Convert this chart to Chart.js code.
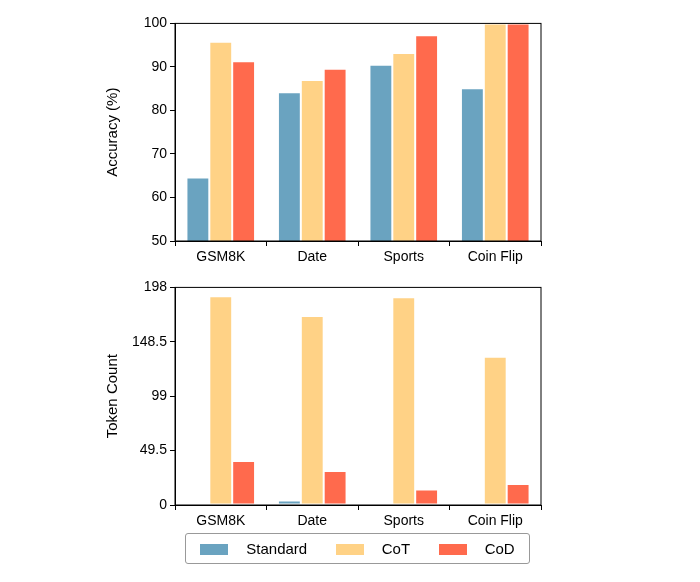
<!DOCTYPE html>
<html><head><meta charset="utf-8">
<script src="https://cdn.jsdelivr.net/npm/chart.js@4"></script>
<style>
body{margin:0;background:#fff;font-family:"Liberation Sans",Arial,sans-serif;}
.c{position:absolute;left:100px;width:445px;height:259px;}
#legend{position:absolute;left:185px;top:533px;width:343px;height:29px;border:1px solid #999;border-radius:3px;display:flex;align-items:center;justify-content:space-around;font-size:15px;}
#legend span i{display:inline-block;width:28px;height:11px;margin-right:18px;vertical-align:-1px;}
</style></head><body>
<div class="c" style="top:12px"><canvas id="acc"></canvas></div>
<div class="c" style="top:276px"><canvas id="tok"></canvas></div>
<div id="legend"></div>
<script>
const categories = ['GSM8K', 'Date', 'Sports', 'Coin Flip'];
const seriesNames = ['Standard', 'CoT', 'CoD'];
const colors = ['#6aa3c0', '#ffd286', '#ff6a4d'];
const accStandard = [64.6, 84.2, 90.5, 85.1];
const accCoT = [95.8, 87.0, 93.2, 100];
const accCoD = [91.3, 89.6, 97.3, 100];
const tokStandard = [1, 4, 1, 1];
const tokCoT = [190, 172, 189, 135];
const tokCoD = [40, 31, 14, 19];

const boxPlugin = {
  id: 'box',
  afterDraw(chart) {
    const a = chart.chartArea, ctx = chart.ctx;
    ctx.save(); ctx.strokeStyle = '#000'; ctx.lineWidth = 1;
    ctx.strokeRect(a.left, a.top, a.right - a.left, a.bottom - a.top);
    ctx.restore();
  }
};

function makeChart(id, data, yTitle, yMin, yMax, step) {
  new Chart(document.getElementById(id), {
    type: 'bar',
    data: {
      labels: categories,
      datasets: data.map((d, i) => ({ label: seriesNames[i], data: d, backgroundColor: colors[i], borderColor: '#fff', borderWidth: 1, borderSkipped: false }))
    },
    options: {
      responsive: true, maintainAspectRatio: false, animation: false,
      categoryPercentage: 0.75, barPercentage: 1,
      layout: { padding: { top: 10, right: 4 } },
      plugins: { legend: { display: false }, tooltip: { enabled: false } },
      scales: {
        x: {
          grid: { drawOnChartArea: false, tickLength: 5, color: '#000' },
          border: { color: '#000' },
          ticks: { color: '#000', font: { size: 14, family: 'Liberation Sans' } },
          afterFit: s => { s.height = 30; }
        },
        y: {
          min: yMin, max: yMax,
          grid: { drawOnChartArea: false, tickLength: 5, color: '#000' },
          border: { color: '#000' },
          ticks: { stepSize: step, color: '#000', font: { size: 14, family: 'Liberation Sans' } },
          title: { display: true, text: yTitle, color: '#000', font: { size: 15, family: 'Liberation Sans' } },
          afterFit: s => { s.width = 75; }
        }
      }
    },
    plugins: [boxPlugin]
  });
}

makeChart('acc', [accStandard, accCoT, accCoD], 'Accuracy (%)', 50, 100, 10);
makeChart('tok', [tokStandard, tokCoT, tokCoD], 'Token Count', 0, 198, 50);

document.getElementById('legend').innerHTML = seriesNames.map((n, i) =>
  `<span><i style="background:${colors[i]}"></i>${n}</span>`).join('');
</script>
</body></html>
